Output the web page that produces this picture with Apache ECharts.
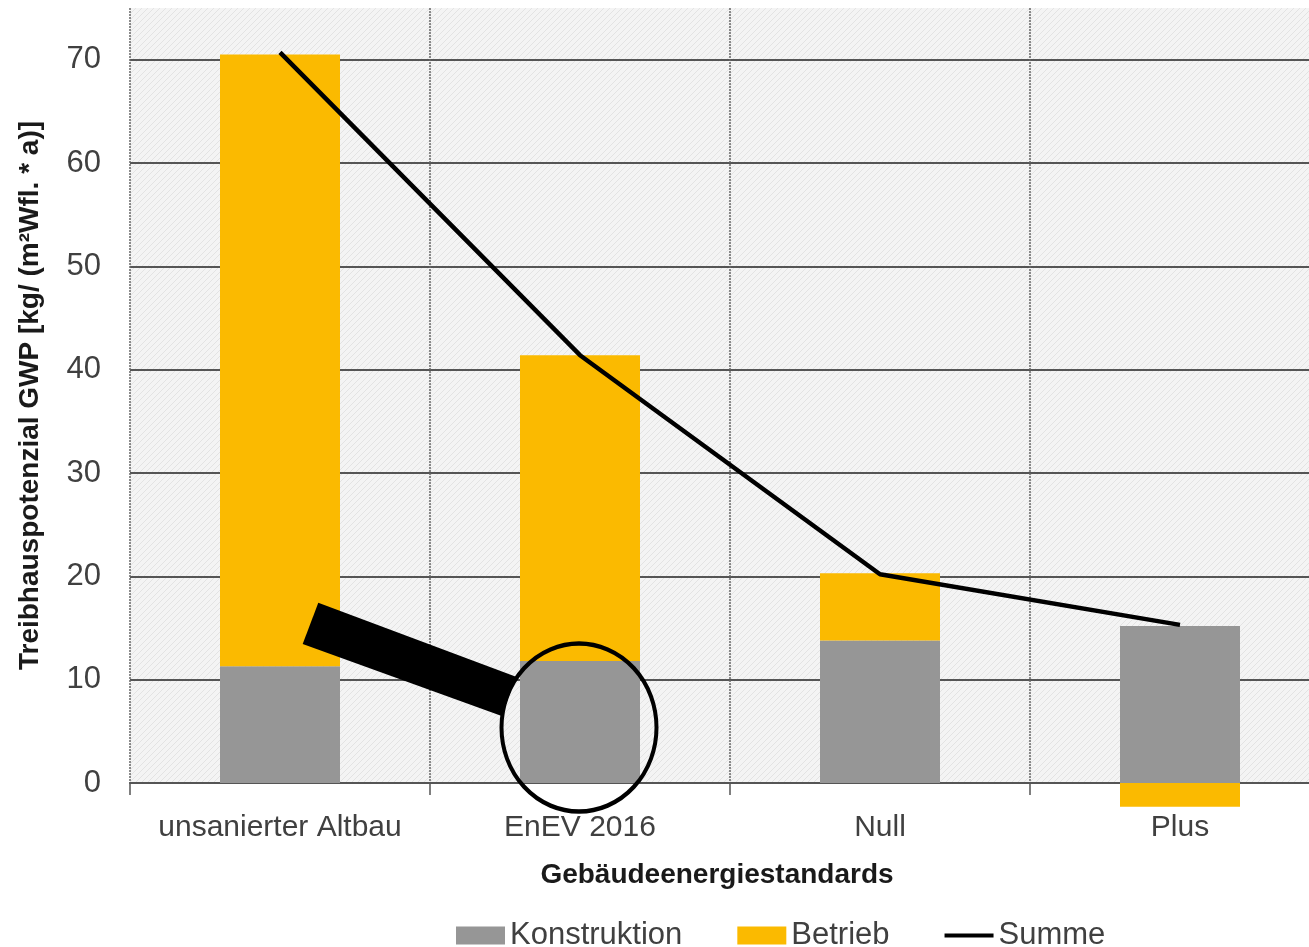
<!DOCTYPE html>
<html><head><meta charset="utf-8">
<script src="https://cdn.jsdelivr.net/npm/echarts@6/dist/echarts.min.js"></script>
<style>html,body{margin:0;padding:0;background:#fff;overflow:hidden;width:1309px;height:947px;}#c{width:1330px;height:947px;}</style>
</head><body><div id="c"></div>
<script>
const categories = ['unsanierter Altbau', 'EnEV 2016', 'Null', 'Plus'];
const konstruktion = [11.3, 11.8, 13.8, 15.2];
const betrieb = [59.2, 29.6, 6.5, -2.3];
const summe = [70.7, 41.4, 20.2, 15.3];
const yMin = 0, yMax = 75, yStep = 10;
const seriesNames = ['Konstruktion', 'Betrieb', 'Summe'];
const yAxisTitle = 'Treibhauspotenzial GWP [kg/ (m\u00B2Wfl. * a)]';
const xAxisTitle = 'Geb\u00E4udeenergiestandards';

// hatch pattern for plot background
const pc = document.createElement('canvas');
pc.width = 6; pc.height = 6;
const g = pc.getContext('2d');
g.fillStyle = '#f4f4f4'; g.fillRect(0, 0, 6, 6);
g.strokeStyle = '#e3e3e3'; g.lineWidth = 1;
g.beginPath();
g.moveTo(-1, 7); g.lineTo(7, -1);
g.moveTo(-1, 1); g.lineTo(1, -1);
g.moveTo(5, 7); g.lineTo(7, 5);
g.stroke();

const FONT = 'Liberation Sans, Arial, sans-serif';
const chart = echarts.init(document.getElementById('c'), null, {renderer: 'canvas'});
const option = {
  animation: false,
  backgroundColor: '#ffffff',
  grid: {
    left: 130, right: 0, top: 8, bottom: 164,
    show: true, borderWidth: 0,
    backgroundColor: {image: pc, repeat: 'repeat'}
  },
  legend: {
    left: 451, top: 915,
    itemWidth: 49, itemHeight: 18, itemGap: 55,
    textStyle: {fontSize: 31, color: '#404040', fontFamily: FONT},
    data: [
      {name: seriesNames[0], icon: 'rect'},
      {name: seriesNames[1], icon: 'rect'},
      {name: seriesNames[2], icon: 'path://M0,0 H50 V4 H0 Z'}
    ]
  },
  xAxis: {
    type: 'category',
    data: categories,
    name: xAxisTitle,
    nameLocation: 'middle',
    nameGap: 78,
    nameTextStyle: {fontSize: 28, fontWeight: 'bold', color: '#1a1a1a', fontFamily: FONT, padding: [0, 26, 0, 0]},
    axisLine: {show: true, lineStyle: {color: '#555', width: 2}},
    axisTick: {show: true, interval: 0, length: 12, lineStyle: {color: '#555', width: 1.5}},
    axisLabel: {interval: 0, hideOverlap: false, fontSize: 30, color: '#404040', margin: 30, fontFamily: FONT},
    splitLine: {show: true, interval: 0, lineStyle: {color: '#666', width: 1.5, type: [2, 1]}}
  },
  yAxis: {
    type: 'value',
    min: yMin, max: yMax, interval: yStep,
    name: yAxisTitle,
    nameLocation: 'middle',
    nameGap: 86,
    nameTextStyle: {fontSize: 28, fontWeight: 'bold', color: '#1a1a1a', fontFamily: FONT},
    axisLine: {show: false},
    axisTick: {show: false},
    axisLabel: {fontSize: 31, color: '#404040', margin: 29, fontFamily: FONT, showMaxLabel: false},
    splitLine: {show: true, showMaxLine: false, lineStyle: {color: '#555', width: 2}}
  },
  series: [
    {
      name: seriesNames[0], type: 'bar', stack: 'gwp', data: konstruktion,
      barWidth: '40%', clip: false,
      itemStyle: {color: '#969696'}
    },
    {
      name: seriesNames[1], type: 'bar', stack: 'gwp', data: betrieb,
      barWidth: '40%', clip: false,
      itemStyle: {color: '#FBBA00'}
    },
    {
      name: seriesNames[2], type: 'line', data: summe,
      showSymbol: false, symbol: 'none', z: 5,
      lineStyle: {color: '#000', width: 4.5},
      itemStyle: {color: '#000'}
    }
  ]
};
chart.setOption(option);

// magnifier annotation around the EnEV 2016 construction bar
const ctr = chart.convertToPixel({xAxisIndex: 0, yAxisIndex: 0}, [categories[1], 5.37]);
const cx = ctr[0] - 1, cy = ctr[1];
chart.setOption({
  graphic: [
    {
      type: 'polygon', z: 100,
      shape: {points: [
        [cx - 260.7, cy - 124.8], [cx - 276.3, cy - 83.5],
        [cx - 77.3, cy - 11.5], [cx - 63, cy - 50.8]
      ]},
      style: {fill: '#000'}
    },
    {
      type: 'circle', z: 100,
      x: cx, y: cy, scaleY: 84 / 77.5,
      shape: {cx: 0, cy: 0, r: 77.5},
      style: {fill: 'none', stroke: '#000', lineWidth: 4, strokeNoScale: true}
    }
  ]
});
</script></body></html>
